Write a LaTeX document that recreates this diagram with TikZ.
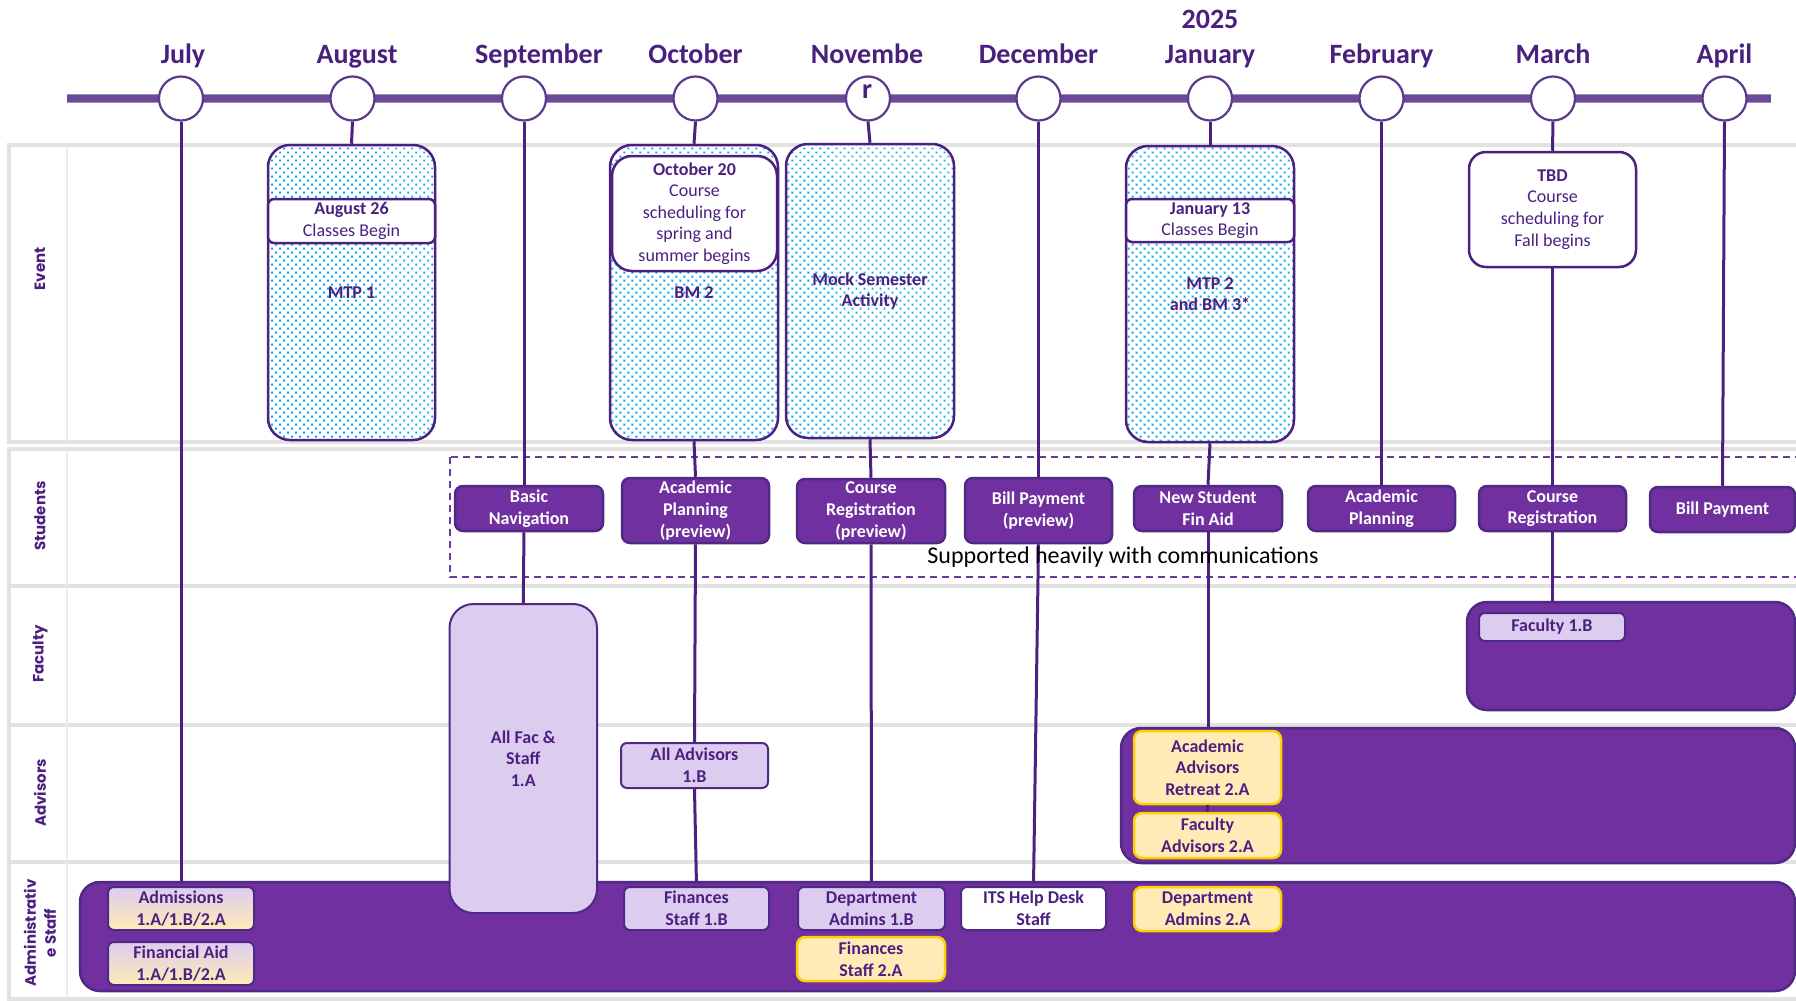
\documentclass[tikz,border=0pt]{standalone}
\usepackage{fontspec}
\setmainfont{Carlito}
\newfontfamily\rowfont{Poppins}
\usetikzlibrary{backgrounds,patterns.meta}
\definecolor{dp}{HTML}{4B2080}
\definecolor{mtxt}{HTML}{4A1F7E}
\definecolor{pf}{HTML}{7030A0}
\definecolor{sbord}{HTML}{4E2A84}
\definecolor{lav}{HTML}{DCCCF0}
\definecolor{yel}{HTML}{FFEBB5}
\definecolor{gold}{HTML}{FFD000}
\definecolor{tlc}{HTML}{6A4A97}
\definecolor{tlh}{HTML}{A08CC4}
\definecolor{circb}{HTML}{5A3A8E}
\definecolor{gridc}{HTML}{E2E2E2}
\definecolor{gridl}{HTML}{EBEBEB}
\definecolor{dotc}{HTML}{00A8EC}
\definecolor{dashc}{HTML}{6A3A9E}
\begin{document}
\begin{tikzpicture}[x=0.5pt, y=-0.5pt,
  sAt/.style args={#1/#2/#3/#4}{at={({(#1+#3)/2},{(#2+#4)/2})}, minimum width={(#3-#1)*0.5pt}, minimum height={(#4-#2)*0.5pt}, anchor=center},
  sMonth/.style={font=\bfseries\fontsize{14}{16}\selectfont, text=mtxt, anchor=base, inner sep=0},
  sCirc/.style={circle, draw=circb, line width=1.1pt, fill=white, minimum size=22pt, inner sep=0},
  sConn/.style={draw=dp, line width=1.5pt},
  sTxt/.style={font=\fontsize{9}{10.8}\selectfont, text=dp, align=center, inner sep=0},
  sBold/.style={sTxt, font=\bfseries\fontsize{9}{10.8}\selectfont},
  sDot/.style={sBold, draw=dp, line width=1.25pt, rounded corners=11pt, preaction={fill=white}, pattern={Dots[radius=0.68pt,distance=2.83pt,angle=45]}, pattern color=dotc},
  sHdr/.style={sTxt, draw=dp, fill=white, line width=1.25pt, rounded corners=3pt},
  sStud/.style={sBold, text=white, draw=sbord, fill=pf, line width=1.25pt, rounded corners=4pt},
  sBig/.style={draw=sbord, fill=pf, line width=1.25pt, rounded corners=10pt, inner sep=0},
  sLav/.style={sBold, draw=sbord, fill=lav, line width=1pt, rounded corners=3pt},
  sYel/.style={sBold, draw=gold, fill=yel, line width=1.25pt, rounded corners=4pt},
  sGrad/.style={sBold, draw=sbord, top color=lav, bottom color=yel, line width=1pt, rounded corners=3pt},
  sWhite/.style={sBold, draw=sbord, fill=white, line width=1pt, rounded corners=3pt},
  sRow/.style={font=\rowfont\bfseries\fontsize{7.5}{10}\selectfont, text=dp, rotate=90, align=center, inner sep=0},
  sFrame/.style={draw=gridc, line width=1.75pt},
  sSep/.style={draw=gridl, line width=0.8pt}
]
\useasboundingbox (0,0) rectangle (1796,1001);

% ---------- timeline ----------
\coordinate (tlA) at (67,98.5);
\coordinate (tlB) at (1771,98.5);

\node[sMonth] (mJul) at (183,63) {July};
\node[sMonth] (mAug) at (357,63) {August};
\node[sMonth] (mSep) at (539,63) {September};
\node[sMonth] (mOct) at (695.5,63) {October};
\node[sMonth] (mNov) at (867,63) {Novembe};
\node[sMonth] (mDec) at (1038.5,63) {December};
\node[sMonth] (mJan) at (1210,63) {January};
\node[sMonth] (mFeb) at (1381.5,63) {February};
\node[sMonth] (mMar) at (1553,63) {March};
\node[sMonth] (mApr) at (1724.5,63) {April};
\node[sMonth] (yr) at (1210,28.5) {2025};

\node[sCirc] (cJul) at (181,98.5) {};
\node[sCirc] (cAug) at (352.5,98.5) {};
\node[sCirc] (cSep) at (524,98.5) {};
\node[sCirc] (cOct) at (695.5,98.5) {};
\node[sCirc] (cNov) at (868,98.5) {};
\node[sCirc] (cDec) at (1038.5,98.5) {};
\node[sCirc] (cJan) at (1210,98.5) {};
\node[sCirc] (cFeb) at (1381.5,98.5) {};
\node[sCirc] (cMar) at (1553,98.5) {};
\node[sCirc] (cApr) at (1724.5,98.5) {};
\node[sMonth] (rNov) at (867,98) {r};

% ---------- row labels ----------
\node[sRow] (lEvent) at (40,269) {Event};
\node[sRow] (lStud) at (40,516) {Students};
\node[sRow] (lFac) at (40,654) {Faculty};
\node[sRow] (lAdv) at (40,793) {Advisors};
\node[sRow] (lAdm) at (40,933) {Administrativ\\e Staff};

% ---------- event row ----------
\node[sDot, sAt=268/145/435/440] (aug) {MTP 1};
\node[sHdr, sAt=268/199/435/243] (augH) {\textbf{August 26}\\Classes Begin};
\node[sDot, sAt=610/145/778/440] (oct) {BM 2};
\node[sHdr, rounded corners=10pt, sAt=612/156/777/271] (octH) {\textbf{October 20}\\Course\\scheduling for\\spring and\\summer begins};
\node[sDot, sAt=786/144/954/438] (mock) {Mock Semester\\Activity};
\node[sDot, sAt=1126/146/1294/442] (jan) {MTP 2\\and BM 3*};
\node[sHdr, sAt=1126/199/1294/242] (janH) {\textbf{January 13}\\Classes Begin};
\node[sHdr, rounded corners=8.5pt, sAt=1469/152/1636/267] (tbd) {\textbf{TBD}\\Course\\scheduling for\\Fall begins};

% ---------- students row ----------
\node[sStud, sAt=455/486/603/531] (basic) {Basic\\Navigation};
\node[sStud, sAt=622/478/769/543] (acadp) {Academic\\Planning\\(preview)};
\node[sStud, sAt=797/479/945/543] (coursep) {Course\\Registration\\(preview)};
\node[sStud, sAt=965/478/1112/543] (billp) {Bill Payment\\(preview)};
\node[sStud, sAt=1134/486/1282/531] (nsfa) {New Student\\Fin Aid};
\node[sStud, sAt=1308/486/1455/531] (acad) {Academic\\Planning};
\node[sStud, sAt=1479/486/1626/531] (creg) {Course\\Registration};
\node[sStud, sAt=1650/487/1795/532] (bill) {Bill Payment};
\node[font=\fontsize{12}{14}\selectfont, text=black, inner sep=0] (supp) at (1123,557) {Supported heavily with communications};

% ---------- admin / advisors / faculty big boxes ----------
\node[sBig, sAt=80/882/1795/991] (admbig) {};
\node[sBig, sAt=1121/728/1795/863] (advbig) {};
\node[sBig, sAt=1467/602/1795/710] (facbig) {};

% ---------- faculty row ----------
\node[sLav, rounded corners=12pt, sAt=449.5/604/597/913] (allfac) {All Fac \&\\Staff\\1.A};
\node[sLav, sAt=1479/613/1625/641] (fac1b) {Faculty 1.B};

% ---------- advisors row ----------
\node[sLav, sAt=621/743/768/788] (alladv) {All Advisors\\1.B};
\node[sYel, sAt=1134/731/1281/804] (retreat) {Academic\\Advisors\\Retreat 2.A};
\node[sYel, sAt=1134/813/1281/858] (facadv) {Faculty\\Advisors 2.A};
\draw[sConn] (retreat.south) -- (facadv.north);

% ---------- admin row ----------
\node[sGrad, sAt=108/887/254/930] (adm) {Admissions\\1.A/1.B/2.A};
\node[sGrad, sAt=108/942/254/985] (finaid) {Financial Aid\\1.A/1.B/2.A};
\node[sLav, sAt=624/887/769/930] (fin1b) {Finances\\Staff 1.B};
\node[sLav, sAt=798/887/945/930] (dept1b) {Department\\Admins 1.B};
\node[sYel, sAt=797/937/945/981] (fin2a) {Finances\\Staff 2.A};
\node[sWhite, sAt=961/887/1106/930] (its) {ITS Help Desk\\Staff};
\node[sYel, sAt=1134/887/1281/931] (dept2a) {Department\\Admins 2.A};

% ---------- background: frames, timeline, connectors ----------
\begin{pgfonlayer}{background}
  \draw[sFrame] (9,145) rectangle (1810,442);
  \draw[sFrame] (9,449) rectangle (1810,999);
  \draw[sFrame] (9,586) -- (1810,586);
  \draw[sFrame] (9,725) -- (1810,725);
  \draw[sFrame] (9,862) -- (1810,862);
  \draw[sSep] (67,146) -- (67,441);
  \draw[sSep] (67,450) -- (67,998);
  \draw[dashc, line width=1pt, dash pattern=on 3.5pt off 2.5pt] (450,457) rectangle (1810,577);
  \draw[tlh, line width=4.6pt] (tlA) -- (tlB);
  \draw[tlc, line width=3.4pt] (tlA) -- (tlB);
  \draw[sConn] (cJul.south) -- (adm.north);
  \draw[sConn] (cAug.south) -- (aug.north);
  \draw[sConn] (cSep.south) -- (cSep.south |- basic.north);
  \draw[sConn] (cSep.south |- basic.south) -- (allfac.north);
  \draw[sConn] (cOct.south) -- (oct.north);
  \draw[sConn] (oct.south) -- (acadp.north);
  \draw[sConn] (acadp.south) -- (alladv.north);
  \draw[sConn] (alladv.south) -- (fin1b.north);
  \draw[sConn] (cNov.south) -- (mock.north);
  \draw[sConn] (mock.south) -- (coursep.north);
  \draw[sConn] (coursep.south) -- (dept1b.north);
  \draw[sConn] (cDec.south) -- (billp.north);
  \draw[sConn] (billp.south) -- (its.north);
  \draw[sConn] (cJan.south) -- (jan.north);
  \draw[sConn] (jan.south) -- (nsfa.north);
  \draw[sConn] (nsfa.south) -- (nsfa.south |- advbig.north);
  \draw[sConn] (cFeb.south) -- (acad.north);
  \draw[sConn] (cMar.south) -- (tbd.north);
  \draw[sConn] (tbd.south) -- (creg.north);
  \draw[sConn] (creg.south) -- (creg.south |- facbig.north);
  \draw[sConn] (cApr.south) -- (bill.north);
\end{pgfonlayer}
\end{tikzpicture}
\end{document}
